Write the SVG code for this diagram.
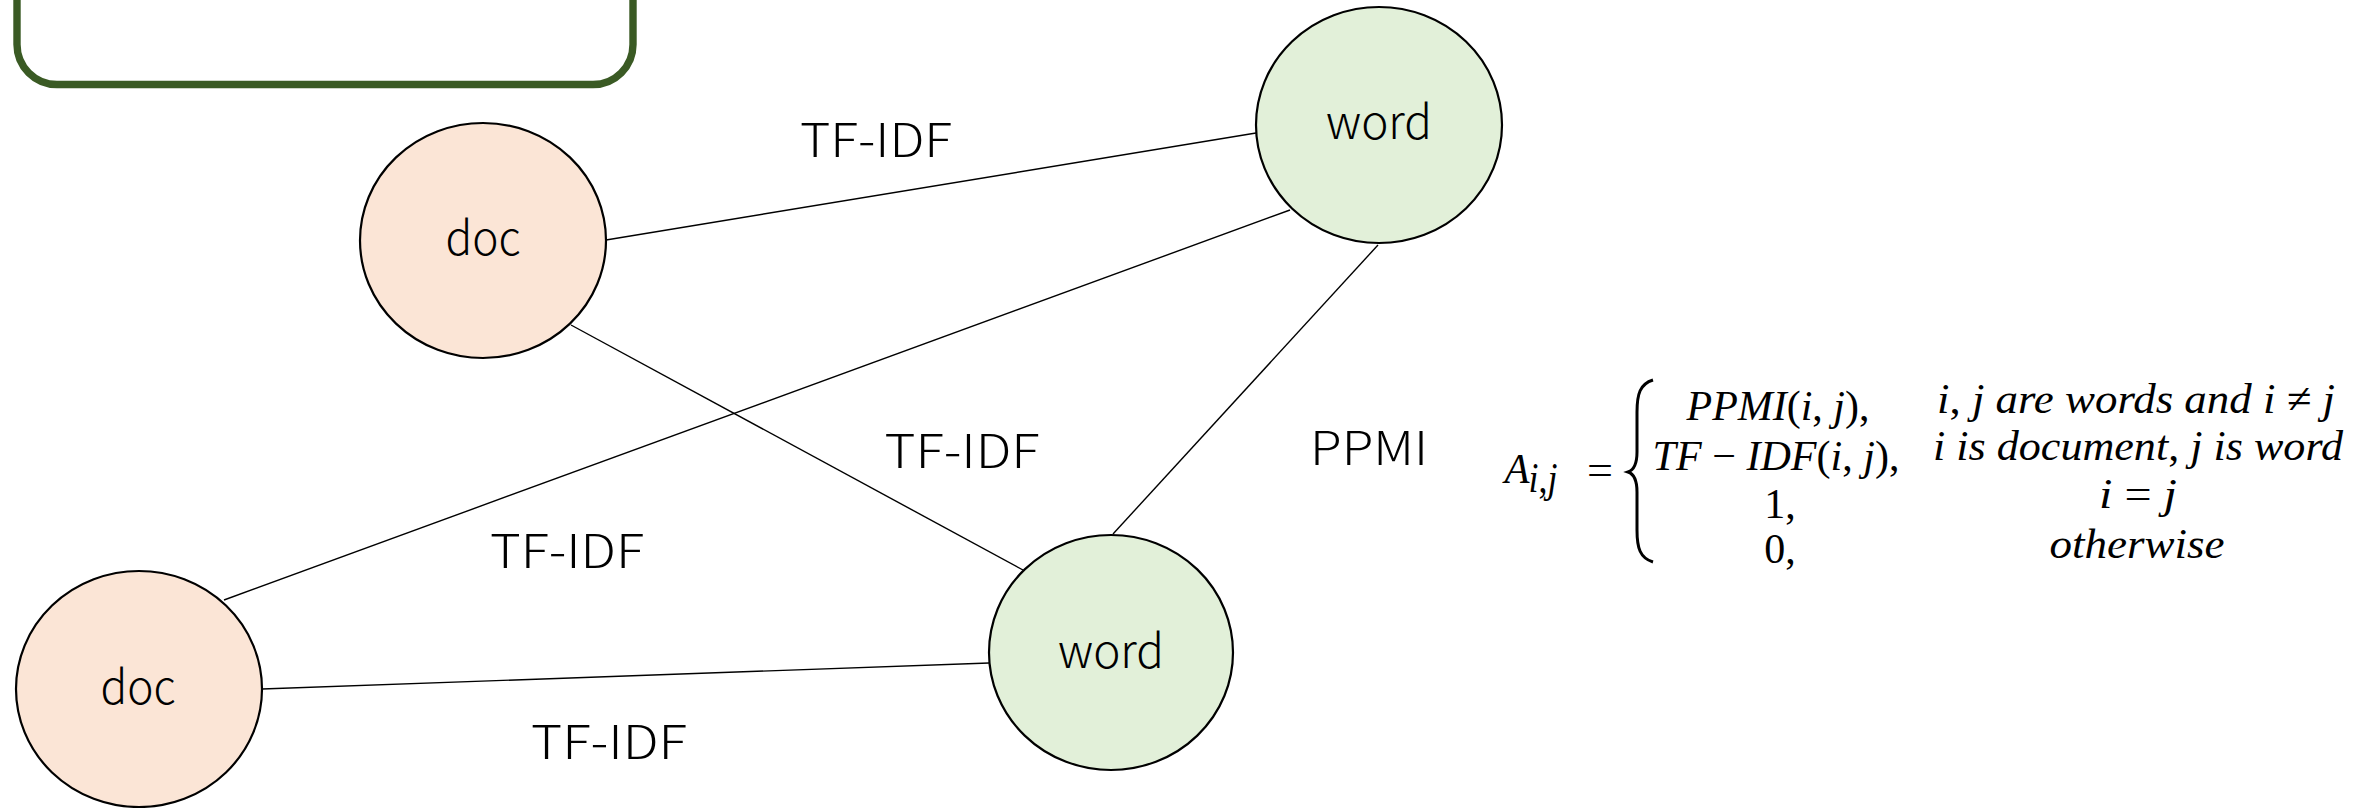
<svg xmlns="http://www.w3.org/2000/svg" width="2366" height="808" viewBox="0 0 2366 808">
  <style>
    .doc { fill: #FBE5D6; stroke: #000; stroke-width: 2.2; }
    .word { fill: #E2F0D9; stroke: #000; stroke-width: 2.2; }
    .edge { stroke: #000; stroke-width: 1.4; fill: none; }
    .lbl { font-family: "Noto Sans CJK JP", "Noto Sans", sans-serif; font-size: 46px; font-weight: 300; fill: #000; text-anchor: middle; }
    .math { font-family: "Liberation Serif", serif; font-size: 42px; font-style: italic; fill: #000; text-anchor: middle; }
    .up { font-style: normal; }
  </style>

  <!-- frame box (top part runs off the canvas) -->
  <rect id="frame" x="17" y="-150" width="616" height="234.5" rx="40" ry="40" fill="#FFFFFF" stroke="#3A5A24" stroke-width="7.4"/>

  <!-- connectors -->
  <g id="edges">
    <line class="edge" x1="606" y1="240" x2="1256" y2="133"/>
    <line class="edge" x1="224" y1="600" x2="1290" y2="210"/>
    <line class="edge" x1="571" y1="325" x2="1023" y2="570"/>
    <line class="edge" x1="1378" y1="245" x2="1113" y2="534"/>
    <line class="edge" x1="262" y1="689" x2="989" y2="663"/>
  </g>

  <!-- edge labels -->
  <g id="edge-labels">
    <text class="lbl" x="876" y="157" textLength="152" lengthAdjust="spacingAndGlyphs">TF-IDF</text>
    <text class="lbl" x="962" y="468" textLength="155" lengthAdjust="spacingAndGlyphs">TF-IDF</text>
    <text class="lbl" x="567" y="568" textLength="154" lengthAdjust="spacingAndGlyphs">TF-IDF</text>
    <text class="lbl" x="609" y="759" textLength="156" lengthAdjust="spacingAndGlyphs">TF-IDF</text>
    <text class="lbl" x="1369" y="465" textLength="118" lengthAdjust="spacingAndGlyphs">PPMI</text>
  </g>

  <!-- nodes -->
  <g id="doc-top">
    <ellipse class="doc" cx="483" cy="240.5" rx="123" ry="117.5"/>
    <text class="lbl" x="483" y="255" textLength="75" lengthAdjust="spacingAndGlyphs">doc</text>
  </g>
  <g id="word-top">
    <ellipse class="word" cx="1379" cy="125" rx="123" ry="118"/>
    <text class="lbl" x="1379" y="139" textLength="106" lengthAdjust="spacingAndGlyphs">word</text>
  </g>
  <g id="doc-bottom">
    <ellipse class="doc" cx="139" cy="689" rx="123" ry="118"/>
    <text class="lbl" x="138" y="704" textLength="75" lengthAdjust="spacingAndGlyphs">doc</text>
  </g>
  <g id="word-bottom">
    <ellipse class="word" cx="1111" cy="652.5" rx="122" ry="117.5"/>
    <text class="lbl" x="1111" y="668" textLength="106" lengthAdjust="spacingAndGlyphs">word</text>
  </g>

  <!-- adjacency definition -->
  <g id="formula">
    <text class="math" x="1517" y="483" text-anchor="start" textLength="25" lengthAdjust="spacingAndGlyphs">A</text>
    <text class="math" x="1543" y="492" text-anchor="start" font-size="30" textLength="29" lengthAdjust="spacingAndGlyphs">i<tspan class="up">,</tspan>j</text>
    <text class="math up" x="1600" y="484" textLength="26" lengthAdjust="spacingAndGlyphs">=</text>
    <!-- left curly brace -->
    <path d="M1653,380 C1640,384 1637,394 1637,412 L1637,452 C1637,464 1634,470 1628,472 C1634,474 1637,480 1637,492 L1637,530 C1637,548 1640,558 1653,562" fill="none" stroke="#000" stroke-width="3"/>

    <text class="math" x="1778" y="420" textLength="183" lengthAdjust="spacingAndGlyphs">PPMI<tspan class="up">(</tspan>i<tspan class="up">, </tspan>j<tspan class="up">),</tspan></text>
    <text class="math" x="1776" y="470" textLength="247" lengthAdjust="spacingAndGlyphs">TF <tspan class="up">−</tspan> IDF<tspan class="up">(</tspan>i<tspan class="up">, </tspan>j<tspan class="up">),</tspan></text>
    <text class="math up" x="1780" y="518">1,</text>
    <text class="math up" x="1780" y="563">0,</text>

    <text class="math" x="2136" y="413" textLength="398" lengthAdjust="spacingAndGlyphs">i<tspan class="up">, </tspan>j are words and i <tspan class="up">≠</tspan> j</text>
    <text class="math" x="2138" y="460" textLength="410" lengthAdjust="spacingAndGlyphs">i is document<tspan class="up">, </tspan>j is word</text>
    <text class="math" x="2138" y="508" textLength="78" lengthAdjust="spacingAndGlyphs">i <tspan class="up">=</tspan> j</text>
    <text class="math" x="2137" y="558" textLength="175" lengthAdjust="spacingAndGlyphs">otherwise</text>
  </g>
</svg>
